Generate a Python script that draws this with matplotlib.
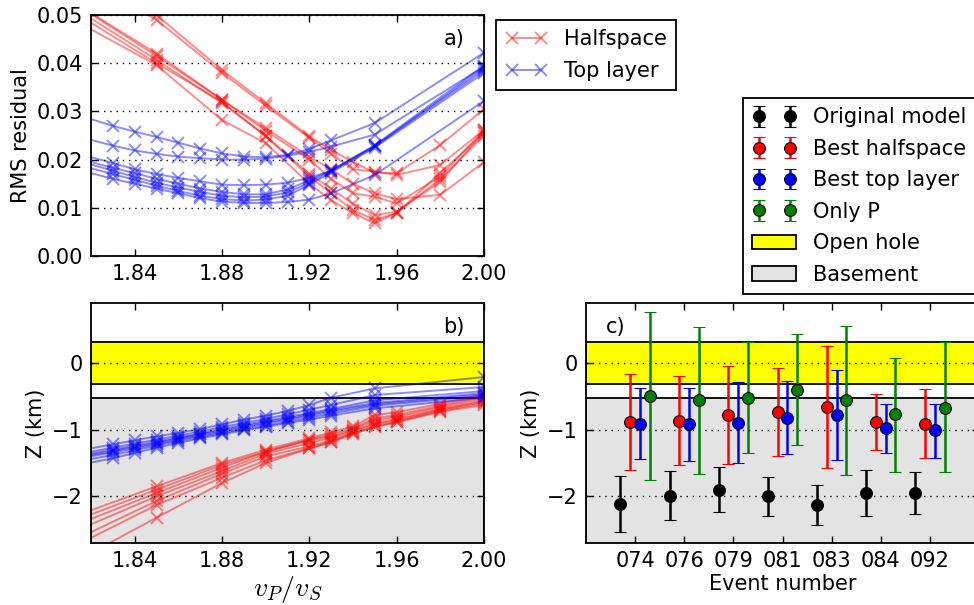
import matplotlib
matplotlib.use("Agg")
import matplotlib.pyplot as plt
import numpy as np

# ---------------- data ----------------
# vP/vS grid for the halfspace and top-layer runs
vpvs_halfspace = [1.80, 1.85, 1.88, 1.90, 1.92, 1.93, 1.94, 1.95, 1.96, 1.98, 2.00]
vpvs_toplayer = [1.80, 1.83, 1.84, 1.85, 1.86, 1.87, 1.88, 1.89, 1.90, 1.91,
                 1.92, 1.93, 1.95, 2.00]

# RMS residual per event, halfspace model
rms_halfspace = [
    [0.0640, 0.0500, 0.0386, 0.0317, 0.0248, 0.0220, 0.0195, 0.0173, 0.0172, 0.0230, 0.0305],
    [0.0620, 0.0490, 0.0380, 0.0312, 0.0245, 0.0212, 0.0180, 0.0175, 0.0168, 0.0189, 0.0262],
    [0.0560, 0.0420, 0.0324, 0.0265, 0.0206, 0.0180, 0.0150, 0.0130, 0.0118, 0.0127, 0.0195],
    [0.0560, 0.0415, 0.0324, 0.0260, 0.0200, 0.0160, 0.0130, 0.0123, 0.0109, 0.0165, 0.0262],
    [0.0550, 0.0407, 0.0317, 0.0250, 0.0170, 0.0140, 0.0108, 0.0085, 0.0092, 0.0154, 0.0258],
    [0.0540, 0.0400, 0.0320, 0.0248, 0.0165, 0.0130, 0.0095, 0.0075, 0.0089, 0.0173, 0.0255],
    [0.0520, 0.0396, 0.0282, 0.0234, 0.0150, 0.0116, 0.0089, 0.0068, 0.0090, 0.0160, 0.0250],
]

# RMS residual per event, top layer model
rms_toplayer = [
    [0.0312, 0.0270, 0.0258, 0.0247, 0.0235, 0.0223, 0.0213, 0.0206, 0.0205, 0.0210, 0.0222, 0.0240, 0.0276, 0.0422],
    [0.0265, 0.0229, 0.0219, 0.0212, 0.0206, 0.0203, 0.0200, 0.0200, 0.0202, 0.0208, 0.0216, 0.0227, 0.0252, 0.0393],
    [0.0229, 0.0193, 0.0180, 0.0170, 0.0162, 0.0155, 0.0148, 0.0147, 0.0148, 0.0152, 0.0162, 0.0177, 0.0228, 0.0390],
    [0.0219, 0.0183, 0.0172, 0.0160, 0.0150, 0.0140, 0.0133, 0.0128, 0.0128, 0.0138, 0.0157, 0.0178, 0.0230, 0.0395],
    [0.0216, 0.0177, 0.0164, 0.0152, 0.0142, 0.0133, 0.0125, 0.0122, 0.0123, 0.0132, 0.0152, 0.0176, 0.0228, 0.0385],
    [0.0206, 0.0170, 0.0158, 0.0146, 0.0135, 0.0125, 0.0118, 0.0115, 0.0117, 0.0125, 0.0148, 0.0173, 0.0225, 0.0380],
    [0.0196, 0.0160, 0.0150, 0.0140, 0.0130, 0.0120, 0.0113, 0.0110, 0.0110, 0.0112, 0.0117, 0.0130, 0.0168, 0.0322],
]

# Source depth (km) per event, halfspace model
z_halfspace = [
    [-2.45, -1.85, -1.50, -1.30, -1.13, -1.04, -0.95, -0.78, -0.74, -0.61, -0.47],
    [-2.52, -1.90, -1.53, -1.33, -1.15, -1.07, -0.98, -0.83, -0.78, -0.64, -0.50],
    [-2.60, -1.95, -1.57, -1.33, -1.16, -1.10, -1.00, -0.86, -0.81, -0.66, -0.53],
    [-2.70, -2.00, -1.62, -1.36, -1.20, -1.12, -1.02, -0.90, -0.84, -0.69, -0.56],
    [-2.85, -2.07, -1.66, -1.40, -1.25, -1.16, -1.04, -0.92, -0.86, -0.70, -0.58],
    [-2.95, -2.13, -1.72, -1.46, -1.28, -1.19, -1.07, -0.95, -0.88, -0.72, -0.60],
    [-3.20, -2.32, -1.80, -1.50, -1.28, -1.18, -1.05, -0.96, -0.89, -0.73, -0.63],
]

# Source depth (km) per event, top layer model
z_toplayer = [
    [-1.40, -1.22, -1.16, -1.10, -1.05, -0.99, -0.92, -0.85, -0.79, -0.72, -0.63, -0.52, -0.38, -0.21],
    [-1.45, -1.27, -1.21, -1.15, -1.09, -1.03, -0.96, -0.90, -0.84, -0.77, -0.70, -0.63, -0.48, -0.36],
    [-1.48, -1.30, -1.24, -1.18, -1.12, -1.06, -0.99, -0.93, -0.87, -0.81, -0.75, -0.69, -0.56, -0.42],
    [-1.50, -1.32, -1.26, -1.20, -1.13, -1.07, -1.01, -0.95, -0.89, -0.83, -0.77, -0.71, -0.60, -0.45],
    [-1.52, -1.34, -1.28, -1.22, -1.15, -1.09, -1.03, -0.97, -0.91, -0.85, -0.79, -0.73, -0.62, -0.47],
    [-1.56, -1.38, -1.31, -1.24, -1.17, -1.11, -1.05, -0.99, -0.94, -0.88, -0.82, -0.76, -0.64, -0.49],
    [-1.62, -1.43, -1.35, -1.27, -1.20, -1.13, -1.07, -1.01, -0.96, -0.90, -0.85, -0.79, -0.68, -0.52],
]

# Event depth estimates: best value with lower / upper bounds (km)
events = ["074", "076", "079", "081", "083", "084", "092"]
orig_z = [-2.11, -1.99, -1.90, -2.00, -2.13, -1.95, -1.95]
orig_lo = [-2.53, -2.36, -2.23, -2.29, -2.43, -2.29, -2.27]
orig_hi = [-1.70, -1.62, -1.56, -1.71, -1.83, -1.60, -1.64]
half_z = [-0.89, -0.87, -0.78, -0.74, -0.66, -0.88, -0.91]
half_lo = [-1.61, -1.53, -1.51, -1.40, -1.57, -1.31, -1.43]
half_hi = [-0.17, -0.20, -0.05, -0.07, 0.25, -0.46, -0.39]
top_z = [-0.91, -0.92, -0.90, -0.82, -0.78, -0.97, -1.01]
top_lo = [-1.44, -1.47, -1.50, -1.36, -1.45, -1.35, -1.43]
top_hi = [-0.37, -0.37, -0.28, -0.27, -0.11, -0.61, -0.61]
onlyp_z = [-0.50, -0.56, -0.52, -0.40, -0.56, -0.77, -0.67]
onlyp_lo = [-1.76, -1.67, -1.35, -1.23, -1.68, -1.63, -1.64]
onlyp_hi = [0.76, 0.54, 0.31, 0.44, 0.56, 0.08, 0.32]

# Depth intervals of the open hole and the basement (km)
open_hole = (-0.32, 0.31)
basement_top = -0.52

# ---------------- figure ----------------
plt.rcParams["font.family"] = "DejaVu Sans"
plt.rcParams["font.size"] = 15
plt.rcParams["mathtext.fontset"] = "cm"

W, H = 974, 605
fig = plt.figure(figsize=(W / 100, H / 100), dpi=100)


def px_axes(left, top, right, bottom):
    return fig.add_axes([left / W, 1 - bottom / H, (right - left) / W, (bottom - top) / H])


ax_a = px_axes(91, 15, 484, 256)
ax_b = px_axes(91, 303, 484, 543)
ax_c = px_axes(586, 303, 979, 543)


def style(ax):
    ax.tick_params(direction="in", top=True, right=True, length=5, width=1,
                   labelsize=15, pad=6)
    for s in ax.spines.values():
        s.set_linewidth(1.3)
    ax.yaxis.grid(True, linestyle=(0, (1, 3.5)), color="black", linewidth=1)
    ax.set_axisbelow(False)


line_kw = dict(marker="x", markersize=9, markeredgewidth=1.4, linewidth=1.4, alpha=0.45)
legend_kw = dict(loc="upper left", bbox_transform=fig.transFigure, numpoints=2,
                 fancybox=False, edgecolor="black", framealpha=1, fontsize=15,
                 borderaxespad=0, borderpad=0.45, labelspacing=0.55,
                 handletextpad=0.8)

# a) RMS residual
for y in rms_halfspace:
    ax_a.plot(vpvs_halfspace, y, color="red", **line_kw)
for y in rms_toplayer:
    ax_a.plot(vpvs_toplayer, y, color="blue", **line_kw)
ax_a.set_xlim(1.82, 2.00)
ax_a.set_ylim(0, 0.05)
ax_a.set_xticks([1.84, 1.88, 1.92, 1.96, 2.00])
ax_a.set_xticklabels(["1.84", "1.88", "1.92", "1.96", "2.00"])
ax_a.set_yticks([0, 0.01, 0.02, 0.03, 0.04, 0.05])
ax_a.set_yticklabels(["%.2f" % v for v in [0, 0.01, 0.02, 0.03, 0.04, 0.05]])
ax_a.set_ylabel("RMS residual", fontsize=15)
ax_a.text(0.95, 0.9, "a)", transform=ax_a.transAxes, ha="right", va="center", fontsize=15)
style(ax_a)

h_half, = ax_a.plot([], [], color="red", **line_kw)
h_top, = ax_a.plot([], [], color="blue", **line_kw)
fig.legend([h_half, h_top], ["Halfspace", "Top layer"],
           bbox_to_anchor=(496 / W, 1 - 20 / H), handlelength=2.0,
           **legend_kw).get_frame().set_linewidth(1.3)


def layers(ax):
    hole = ax.axhspan(open_hole[0], open_hole[1], facecolor="yellow",
                      edgecolor="black", linewidth=1.3, zorder=0.5)
    base = ax.axhspan(-10, basement_top, facecolor="#e3e3e3",
                      edgecolor="black", linewidth=1.3, zorder=0.5)
    return hole, base


# b) depth versus vP/vS
layers(ax_b)
for y in z_halfspace:
    ax_b.plot(vpvs_halfspace, y, color="red", **line_kw)
for y in z_toplayer:
    ax_b.plot(vpvs_toplayer, y, color="blue", **line_kw)
ax_b.set_xlim(1.82, 2.00)
ax_b.set_ylim(-2.7, 0.9)
ax_b.set_xticks([1.84, 1.88, 1.92, 1.96, 2.00])
ax_b.set_xticklabels(["1.84", "1.88", "1.92", "1.96", "2.00"])
ax_b.set_yticks([-2, -1, 0])
ax_b.set_ylabel("Z (km)", fontsize=15)
ax_b.set_xlabel("$v_P/v_S$", fontsize=20, labelpad=2)
ax_b.text(0.95, 0.9, "b)", transform=ax_b.transAxes, ha="right", va="center", fontsize=15)
style(ax_b)

# c) depth per event
hole, base = layers(ax_c)
pos = np.arange(1, len(events) + 1)
eb_kw = dict(fmt="o", markersize=8.5, markeredgecolor="black", markeredgewidth=0.8,
             elinewidth=1.8, capsize=4, capthick=1.8, zorder=3)


def yerr(z, lo, hi):
    z, lo, hi = map(np.asarray, (z, lo, hi))
    return np.vstack([z - lo, hi - z])


series = [
    (orig_z, orig_lo, orig_hi, "black", -0.3, "Original model"),
    (half_z, half_lo, half_hi, "red", -0.1, "Best halfspace"),
    (top_z, top_lo, top_hi, "blue", 0.1, "Best top layer"),
    (onlyp_z, onlyp_lo, onlyp_hi, "green", 0.3, "Only P"),
]
handles, labels = [], []
for z, lo, hi, col, off, lab in series:
    h = ax_c.errorbar(pos + off, z, yerr=yerr(z, lo, hi), color=col, ecolor=col,
                      markerfacecolor=col, **eb_kw)
    handles.append(h)
    labels.append(lab)
handles += [hole, base]
labels += ["Open hole", "Basement"]

ax_c.set_xlim(0, 8)
ax_c.set_ylim(-2.7, 0.9)
ax_c.set_xticks(pos)
ax_c.set_xticklabels(events)
ax_c.set_yticks([-2, -1, 0])
ax_c.set_ylabel("Z (km)", fontsize=15)
ax_c.set_xlabel("Event number", fontsize=15, labelpad=2)
ax_c.text(0.05, 0.9, "c)", transform=ax_c.transAxes, ha="left", va="center", fontsize=15)
style(ax_c)

fig.legend(handles, labels, bbox_to_anchor=(743 / W, 1 - 98 / H),
           handlelength=2.1, **legend_kw).get_frame().set_linewidth(1.3)

fig.savefig("out.png", dpi=100)
